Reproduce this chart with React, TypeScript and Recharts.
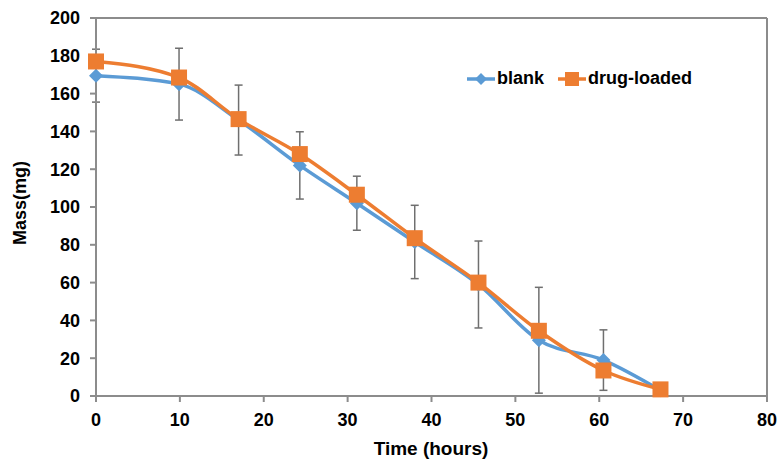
import {
  LineChart,
  Line,
  XAxis,
  YAxis,
  ErrorBar,
  ReferenceLine,
  Legend,
} from "recharts";

const hours = [0, 9.9, 17, 24.3, 31.1, 38, 45.6, 52.8, 60.5, 67.3];
const blank = [169.5, 165, 146, 122, 102, 81.5, 59, 29.5, 19, 3];
const drugLoaded = [177, 168.5, 146.5, 128, 106.5, 83.5, 60, 34.5, 13.5, 3.5];
const blankErr = [14, 19, 18.5, 17.8, 14.3, 19.4, 23, 28, 16, null];
const xTicks = [0, 10, 20, 30, 40, 50, 60, 70, 80];
const yTicks = [0, 20, 40, 60, 80, 100, 120, 140, 160, 180, 200];

const data = hours.map((t, i) => ({
  t,
  blank: blank[i],
  drug: drugLoaded[i],
  err: blankErr[i],
}));

const BLUE = "#5b9bd5";
const ORANGE = "#ed7d31";
const AXIS = "#8c8c8c";
const font = "Liberation Sans, Arial, sans-serif";
const tickStyle = { fill: "#000", fontFamily: font, fontWeight: 700, fontSize: 18 };

const Diamond = (props: any) => {
  const { cx, cy, index } = props;
  if (cx == null || cy == null) return null;
  const r = 7;
  return (
    <path
      key={`d-${index}`}
      d={`M${cx},${cy - r}L${cx + r},${cy}L${cx},${cy + r}L${cx - r},${cy}Z`}
      fill={BLUE}
    />
  );
};

const Square = (props: any) => {
  const { cx, cy, index } = props;
  if (cx == null || cy == null) return null;
  const s = 8;
  return (
    <rect key={`s-${index}`} x={cx - s} y={cy - s} width={s * 2} height={s * 2} fill={ORANGE} />
  );
};

const legendItems = [
  { name: "blank", color: BLUE, shape: "diamond" },
  { name: "drug-loaded", color: ORANGE, shape: "square" },
];

const LegendBox = () => (
  <div style={{ display: "flex", alignItems: "center", fontFamily: font, fontWeight: 700, fontSize: 18 }}>
    {legendItems.map((it) => (
      <div key={it.name} style={{ display: "flex", alignItems: "center", marginRight: 14 }}>
        <svg width={28} height={16}>
          <line x1={0} y1={8} x2={28} y2={8} stroke={it.color} strokeWidth={3.5} />
          {it.shape === "diamond" ? (
            <path d="M14,2L20,8L14,14L8,8Z" fill={it.color} />
          ) : (
            <rect x={7} y={1} width={14} height={14} fill={it.color} />
          )}
        </svg>
        <span style={{ marginLeft: 2, color: "#000" }}>{it.name}</span>
      </div>
    ))}
  </div>
);

export default function App() {
  return (
    <div style={{ position: "absolute", left: 0, top: 0, background: "#fff" }}>
      <LineChart
        width={783}
        height={460}
        data={data}
        margin={{ top: 18, right: 16, bottom: 13, left: 36 }}
      >
        <XAxis
          dataKey="t"
          type="number"
          domain={[0, 80]}
          ticks={xTicks}
          interval={0}
          stroke={AXIS}
          strokeWidth={2}
          tickSize={6}
          tickMargin={11}
          tick={tickStyle}
          label={{
            content: () => (
              <text x={431} y={455} textAnchor="middle" fill="#000" fontFamily={font} fontWeight={700} fontSize={19}>
                Time (hours)
              </text>
            ),
          }}
        />
        <YAxis
          type="number"
          domain={[0, 200]}
          ticks={yTicks}
          interval={0}
          width={60}
          stroke={AXIS}
          strokeWidth={2}
          tickSize={6}
          tickMargin={10}
          tick={tickStyle}
          label={{
            content: () => (
              <text
                x={21}
                y={203}
                transform="rotate(-90, 21, 203)"
                textAnchor="middle"
                dominantBaseline="middle"
                fill="#000"
                fontFamily={font}
                fontWeight={700}
                fontSize={18}
              >
                Mass(mg)
              </text>
            ),
          }}
        />
        <ReferenceLine y={200} stroke={AXIS} strokeWidth={2} />
        <ReferenceLine x={80} stroke={AXIS} strokeWidth={2} />
        <Legend
          content={<LegendBox />}
          wrapperStyle={{ position: "absolute", left: 467, top: 68, width: 280 }}
        />
        <Line
          type="monotone"
          dataKey="blank"
          name="blank"
          stroke={BLUE}
          strokeWidth={3.5}
          dot={<Diamond />}
          activeDot={false}
          isAnimationActive={false}
        >
          <ErrorBar dataKey="err" width={4} stroke="#6f6f6f" strokeWidth={1.5} direction="y" />
        </Line>
        <Line
          type="monotone"
          dataKey="drug"
          name="drug-loaded"
          stroke={ORANGE}
          strokeWidth={3.5}
          dot={<Square />}
          activeDot={false}
          isAnimationActive={false}
        />
      </LineChart>
    </div>
  );
}
